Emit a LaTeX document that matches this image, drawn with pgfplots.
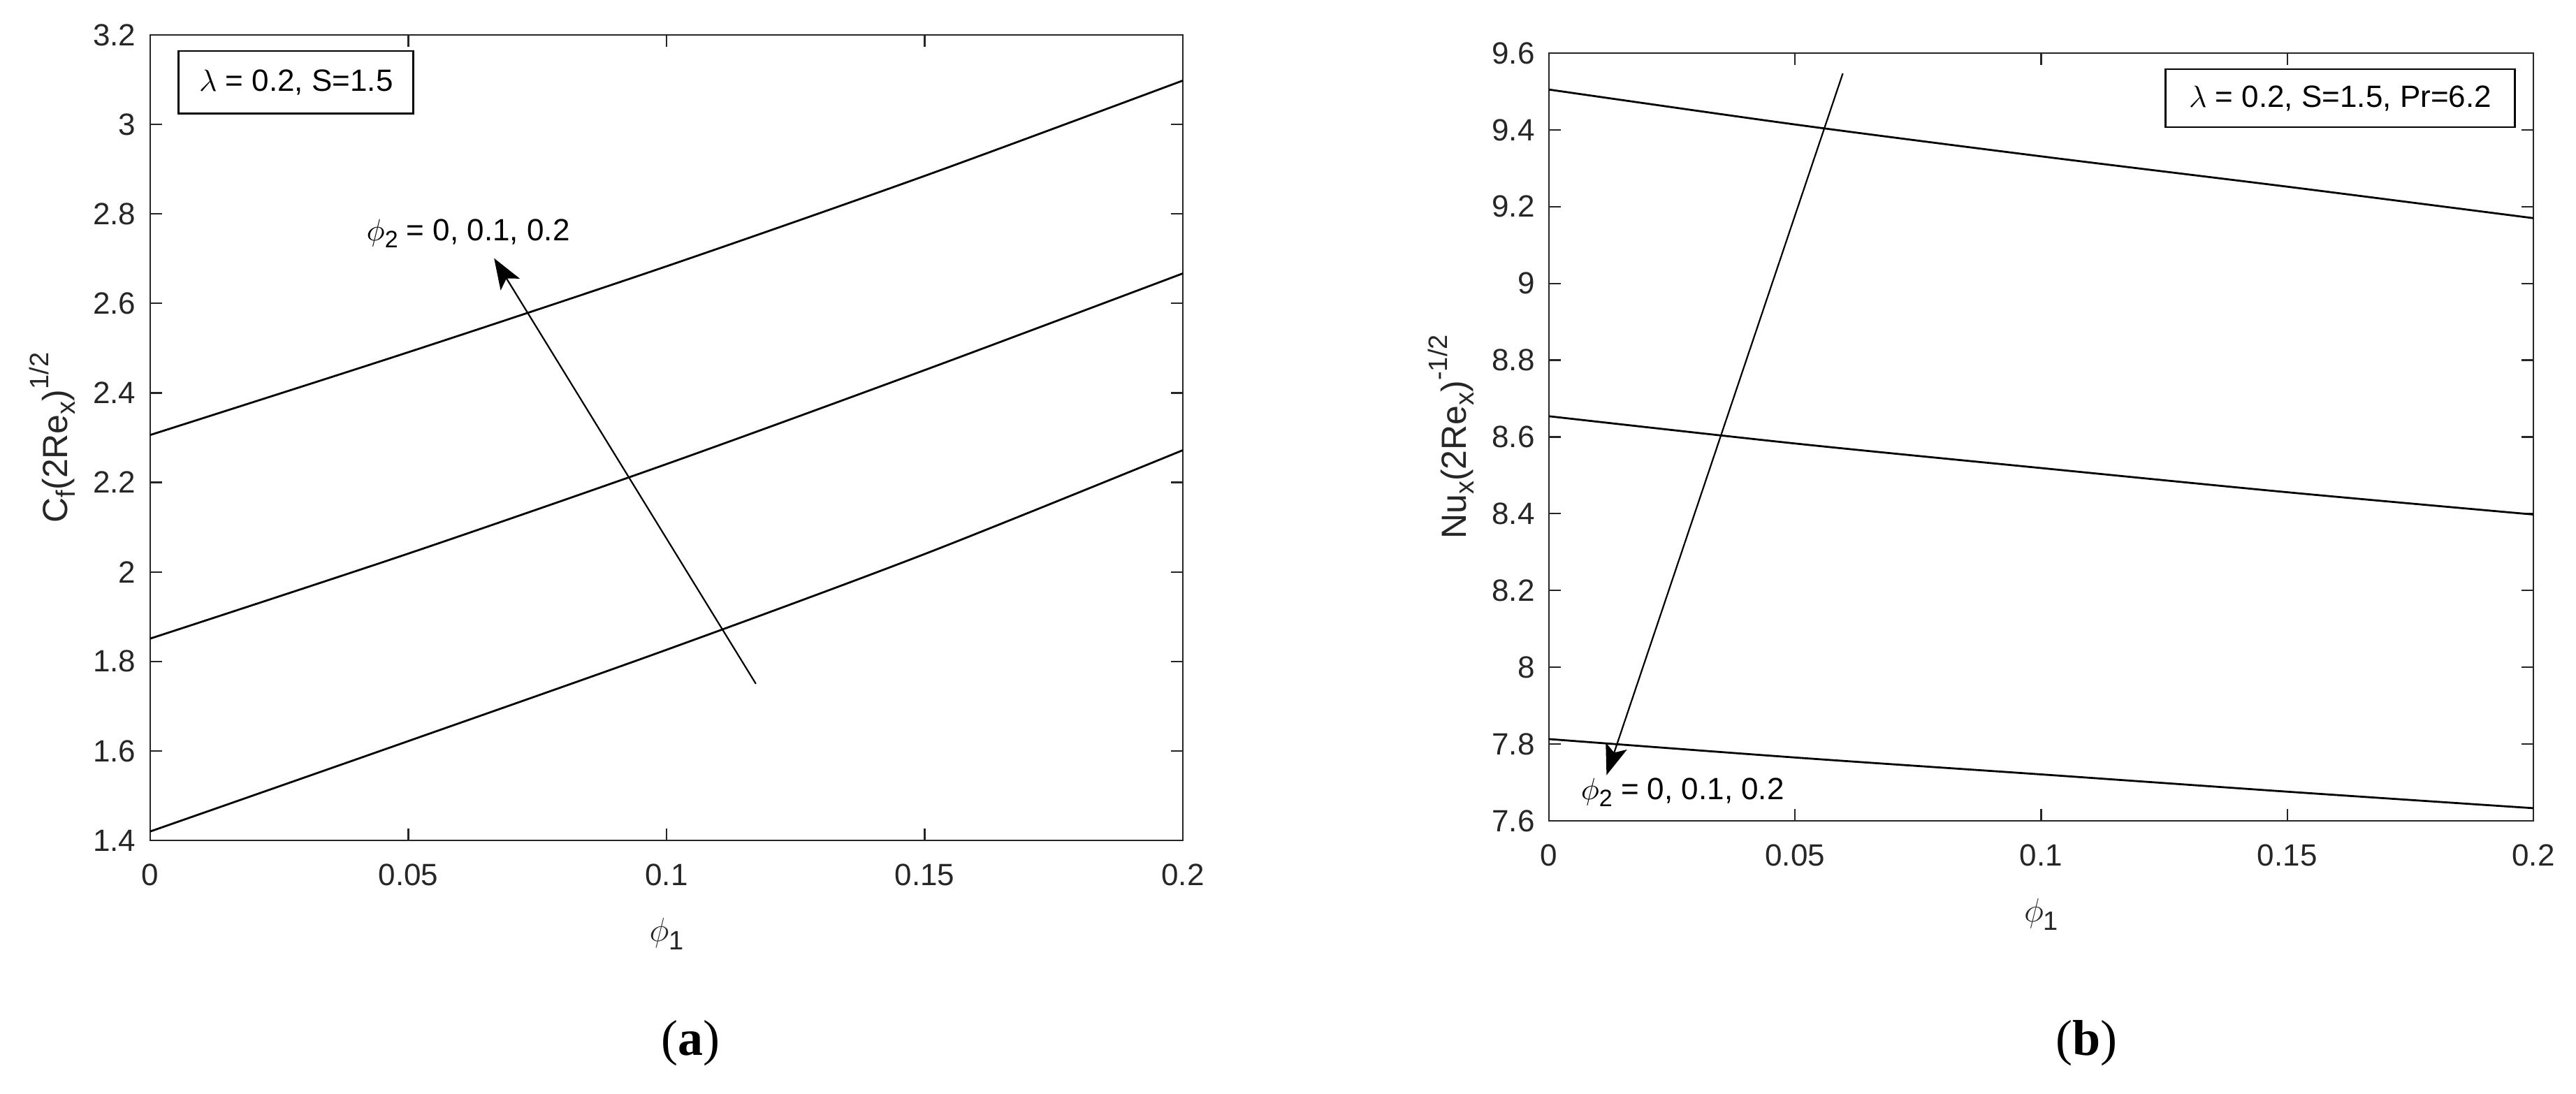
\documentclass[border=0pt]{standalone}
\usepackage{fontspec}
\setmainfont{Liberation Sans}
\newfontfamily\serifb{Liberation Serif}
\usepackage{pgfplots}
\pgfplotsset{compat=1.18}
\usetikzlibrary{arrows.meta}
\definecolor{axgray}{RGB}{38,38,38}
\newcommand\sbs[2][8.5]{\raisebox{-0.45ex}{\fontsize{#1}{10}\selectfont #2}}
\newcommand\sps[2][8.5]{\raisebox{1.0ex}{\fontsize{#1}{10}\selectfont #2}}
\pgfplotsset{mystyle/.style={
  scale only axis, clip=false,
  xmin=0, xmax=0.2,
  axis line style={axgray, line width=0.55pt},
  every tick/.style={axgray, line width=0.55pt},
  tick align=inside, major tick length=4.2pt,
  xtick pos=both, ytick pos=both, xticklabel pos=lower, yticklabel pos=left,
  tick label style={font=\fontsize{11}{13}\selectfont, text=axgray},
  xticklabel style={yshift=-4.8pt},
  yticklabel style={xshift=-1.6pt},
  xtick={0,0.05,0.1,0.15,0.2}, xticklabels={0,0.05,0.1,0.15,0.2},
  cycle list={{black}},
  every axis plot/.append style={black, line width=0.7pt, smooth, no markers},
}}
\begin{document}
\begin{tikzpicture}[font=\fontsize{11}{13}\selectfont]
\path[use as bounding box] (0,0) rectangle (921.75pt,391.25pt);
\begin{axis}[mystyle, at={(53.75pt,90.5pt)}, anchor=south west,
  width=369.5pt, height=288.25pt, ymin=1.4, ymax=3.2,
  ytick={1.4,1.6,1.8,2,2.2,2.4,2.6,2.8,3,3.2},
  yticklabels={1.4,1.6,1.8,2,2.2,2.4,2.6,2.8,3,3.2}]
\addplot coordinates {(0,2.306)(0.05,2.491)(0.1,2.683)(0.15,2.885)(0.2,3.098)};
\addplot coordinates {(0,1.851)(0.05,2.041)(0.1,2.241)(0.15,2.451)(0.2,2.667)};
\addplot coordinates {(0,1.420)(0.05,1.622)(0.1,1.826)(0.15,2.040)(0.2,2.272)};
\draw[black, line width=0.55pt, -{Stealth[length=11pt,width=8pt,inset=2.5pt]}] (axis cs:0.1173,1.750) -- (axis cs:0.0666,2.701);
\draw[black, line width=0.7pt] (axis cs:0.0055,3.024) rectangle (axis cs:0.051,3.164);
\node at (axis cs:0.02825,3.094) {$\lambda$ = 0.2, S=1.5};
\node[anchor=base west] at (axis cs:0.040,2.741) {$\phi$\sbs{2} = 0, 0.1, 0.2};
\node[rotate=90, text=axgray, font=\fontsize{12.5}{15}\selectfont] at (rel axis cs:-0.0947,0.5) {C\sbs[9.5]{f}(2Re\sbs[9.5]{x})\sps[9.5]{1/2}};
\node[text=axgray, font=\fontsize{12.5}{15}\selectfont] at (rel axis cs:0.5,-0.1162) {$\phi$\sbs[9.5]{1}};
\end{axis}
\begin{axis}[mystyle, at={(554.25pt,97.5pt)}, anchor=south west,
  width=352.25pt, height=274.75pt, ymin=7.6, ymax=9.6,
  ytick={7.6,7.8,8,8.2,8.4,8.6,8.8,9,9.2,9.4,9.6},
  yticklabels={7.6,7.8,8,8.2,8.4,8.6,8.8,9,9.2,9.4,9.6}]
\addplot coordinates {(0,9.505)(0.05,9.414)(0.1,9.331)(0.15,9.252)(0.2,9.170)};
\addplot coordinates {(0,8.654)(0.05,8.583)(0.1,8.519)(0.15,8.456)(0.2,8.398)};
\addplot coordinates {(0,7.813)(0.05,7.765)(0.1,7.721)(0.15,7.676)(0.2,7.633)};
\draw[black, line width=0.55pt, -{Stealth[length=11pt,width=8pt,inset=2.5pt]}] (axis cs:0.0597,9.547) -- (axis cs:0.0117,7.719);
\draw[black, line width=0.7pt] (axis cs:0.1253,9.407) rectangle (axis cs:0.1962,9.558);
\node at (axis cs:0.16075,9.4825) {$\lambda$ = 0.2, S=1.5, Pr=6.2};
\node[anchor=base west] at (axis cs:0.0045,7.656) {$\phi$\sbs{2} = 0, 0.1, 0.2};
\node[rotate=90, text=axgray, font=\fontsize{12.5}{15}\selectfont] at (rel axis cs:-0.0994,0.5) {Nu\sbs[9.5]{x}(2Re\sbs[9.5]{x})\sps[9.5]{-1/2}};
\node[text=axgray, font=\fontsize{12.5}{15}\selectfont] at (rel axis cs:0.5,-0.1219) {$\phi$\sbs[9.5]{1}};
\end{axis}
\node at (247pt,18pt) {\fontsize{18}{21}\selectfont\serifb (\textbf{a})};
\node at (746.5pt,18pt) {\fontsize{18}{21}\selectfont\serifb (\textbf{b})};
\end{tikzpicture}
\end{document}
